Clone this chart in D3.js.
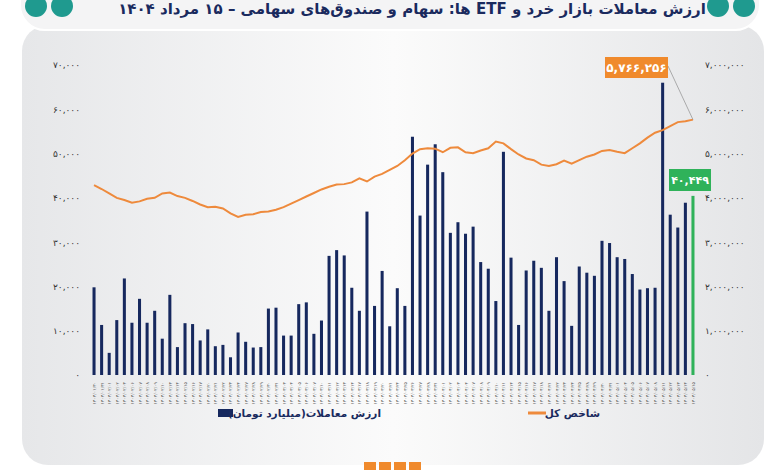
<!DOCTYPE html>
<html><head><meta charset="utf-8">
<script src="https://cdn.jsdelivr.net/npm/d3@7"></script>
<style>body{margin:0;background:#fff;}svg{display:block;font-family:"DejaVu Sans",sans-serif;}</style>
</head><body><svg id="c" width="780" height="470"></svg>
<script>
const dates = ["1404/01/30","1404/01/31","1404/02/01","1404/02/02","1404/02/03","1404/02/06","1404/02/07","1404/02/08","1404/02/09","1404/02/10","1404/02/13","1404/02/14","1404/02/15","1404/02/16","1404/02/17","1404/02/20","1404/02/21","1404/02/22","1404/02/23","1404/02/24","1404/02/27","1404/02/28","1404/02/29","1404/02/30","1404/02/31","1404/03/03","1404/03/04","1404/03/05","1404/03/06","1404/03/07","1404/03/10","1404/03/11","1404/03/12","1404/03/13","1404/03/14","1404/03/17","1404/03/18","1404/03/19","1404/03/20","1404/03/21","1404/03/24","1404/03/25","1404/03/26","1404/03/27","1404/03/28","1404/03/31","1404/04/01","1404/04/02","1404/04/03","1404/04/04","1404/04/07","1404/04/08","1404/04/09","1404/04/10","1404/04/11","1404/04/14","1404/04/15","1404/04/16","1404/04/17","1404/04/18","1404/04/21","1404/04/22","1404/04/23","1404/04/24","1404/04/25","1404/04/28","1404/04/29","1404/04/30","1404/04/31","1404/05/01","1404/05/04","1404/05/05","1404/05/06","1404/05/07","1404/05/08","1404/05/11","1404/05/12","1404/05/13","1404/05/14","1404/05/15"];
const tradeValue = [19800,11300,5000,12400,21800,11800,17200,11800,14500,8200,18100,6300,11700,11500,7800,10300,6500,6800,4000,9600,7500,6200,6300,15000,15200,8900,8900,16000,16400,9300,12300,26900,28200,27000,19700,14500,36900,15600,23500,11000,19600,15600,53800,36000,47500,52100,45800,32100,34500,31900,33500,25500,24000,16700,50400,26500,11300,23600,25800,24200,14500,26600,21200,11100,24500,23100,22400,30300,29800,26600,26200,22800,19300,19600,19700,66000,36200,33300,38900,40449];
const indexValue = [4290000,4200000,4100000,4000000,3950000,3890000,3920000,3980000,4000000,4100000,4120000,4040000,4000000,3930000,3850000,3790000,3800000,3760000,3650000,3570000,3620000,3630000,3680000,3690000,3730000,3790000,3870000,3950000,4030000,4110000,4190000,4250000,4300000,4310000,4350000,4440000,4370000,4480000,4540000,4630000,4720000,4850000,5000000,5100000,5120000,5110000,5030000,5130000,5140000,5030000,5010000,5070000,5120000,5270000,5230000,5100000,4980000,4890000,4850000,4750000,4720000,4760000,4840000,4770000,4850000,4930000,4980000,5060000,5080000,5040000,5010000,5120000,5230000,5360000,5470000,5530000,5620000,5710000,5730000,5766256];
const leftTicks = [0,10000,20000,30000,40000,50000,60000,70000];
const rightTicks = [0,1000000,2000000,3000000,4000000,5000000,6000000,7000000];
const title = "ارزش معاملات بازار خرد و ETF ها: سهام و صندوق‌های سهامی – ۱۵ مرداد ۱۴۰۴";
const legendBar = "ارزش معاملات(میلیارد تومان)";
const legendLine = "شاخص کل";

const fa = s => String(s).replace(/\d/g, d => "۰۱۲۳۴۵۶۷۸۹"[d]);
const fmt = v => fa(d3.format(",")(v));
const svg = d3.select("#c");
const defs = svg.append("defs");
const g1 = defs.append("linearGradient").attr("id","bg").attr("x1",0).attr("x2",1).attr("y1",0).attr("y2",0);
g1.append("stop").attr("offset","0").attr("stop-color","#e6e7e9");
g1.append("stop").attr("offset","0.5").attr("stop-color","#fbfbfb");
g1.append("stop").attr("offset","1").attr("stop-color","#e4e5e7");
svg.append("rect").attr("width",780).attr("height",470).attr("fill","#ffffff");
svg.append("rect").attr("x",22).attr("y",25).attr("width",742).attr("height",440).attr("rx",26).attr("fill","url(#bg)");
svg.append("rect").attr("x",20).attr("y",-40).attr("width",740).attr("height",70).attr("rx",25).attr("fill","#f4f4f5").attr("stroke","#ffffff").attr("stroke-width",2);
svg.append("text").attr("x",412).attr("y",14).attr("text-anchor","middle").attr("direction","rtl")
  .attr("font-size",15).attr("font-weight","bold").attr("fill","#1a2a5e").text(title);
[[36,2],[62,2],[718,2],[744,2]].forEach(([x,y])=>{
  svg.append("circle").attr("cx",x).attr("cy",y+4).attr("r",11).attr("fill","#1f9a8f");
});

const x = d3.scaleBand().domain(dates).range([91,696]).paddingInner(0.6).paddingOuter(0.2);
const yL = d3.scaleLinear().domain([0,70000]).range([375,65]);
const yR = d3.scaleLinear().domain([0,7000000]).range([375,65]);

svg.append("g").attr("transform","translate(80,0)")
  .call(d3.axisLeft(yL).tickValues(leftTicks).tickSize(0).tickPadding(0).tickFormat(fmt))
  .call(a=>a.select(".domain").remove())
  .selectAll("text").attr("font-size",9).attr("fill","#333").attr("font-family","DejaVu Sans");
svg.append("g").attr("transform","translate(705,0)")
  .call(d3.axisRight(yR).tickValues(rightTicks).tickSize(0).tickPadding(0).tickFormat(fmt))
  .call(a=>a.select(".domain").remove())
  .selectAll("text").attr("font-size",9).attr("fill","#333").attr("font-family","DejaVu Sans");

const n = dates.length;
svg.append("g").selectAll("rect").data(tradeValue).join("rect")
  .attr("x",(d,i)=>x(dates[i])).attr("width",x.bandwidth())
  .attr("y",d=>yL(d)).attr("height",d=>yL(0)-yL(d))
  .attr("fill",(d,i)=>i===n-1?"#2fb25a":"#16285e");

svg.append("g").selectAll("text").data(dates).join("text")
  .attr("transform",d=>`translate(${x(d)+x.bandwidth()/2+2},382) rotate(-90)`)
  .attr("text-anchor","end").attr("font-size",4.5).attr("fill","#555").text(d=>fa(d));

const line = d3.line().x((d,i)=>x(dates[i])+x.bandwidth()/2).y(d=>yR(d));
svg.append("path").datum(indexValue).attr("d",line).attr("fill","none").attr("stroke","#ee8a3c").attr("stroke-width",2);

const lx = x(dates[n-1])+x.bandwidth()/2;
svg.append("line").attr("x1",668).attr("y1",66).attr("x2",lx).attr("y2",yR(indexValue[n-1])).attr("stroke","#999").attr("stroke-width",0.8);
svg.append("rect").attr("x",605).attr("y",57).attr("width",63).attr("height",21).attr("fill","#f08a2c");
svg.append("text").attr("x",636.5).attr("y",72).attr("text-anchor","middle").attr("font-size",12).attr("font-weight","bold").attr("fill","#fff").text(fmt(indexValue[n-1]));
svg.append("rect").attr("x",669).attr("y",169).attr("width",42).attr("height",22).attr("fill","#2fb25a");
svg.append("text").attr("x",690).attr("y",184).attr("text-anchor","middle").attr("font-size",11).attr("font-weight","bold").attr("fill","#fff").text(fmt(tradeValue[n-1]));

svg.append("rect").attr("x",218).attr("y",409).attr("width",15).attr("height",8).attr("fill","#16285e");
svg.append("text").attr("x",381).attr("y",417).attr("text-anchor","end").attr("font-size",10.5).attr("font-weight","bold").attr("fill","#1a2a5e").text(legendBar);
svg.append("line").attr("x1",528).attr("x2",546).attr("y1",413).attr("y2",413).attr("stroke","#ee8a3c").attr("stroke-width",3);
svg.append("text").attr("x",600).attr("y",417).attr("text-anchor","end").attr("font-size",10.5).attr("font-weight","bold").attr("fill","#1a2a5e").text(legendLine);
[364,379,394,409].forEach(xx=>svg.append("rect").attr("x",xx).attr("y",462).attr("width",12).attr("height",8).attr("fill","#f08a2c"));
</script></body></html>
